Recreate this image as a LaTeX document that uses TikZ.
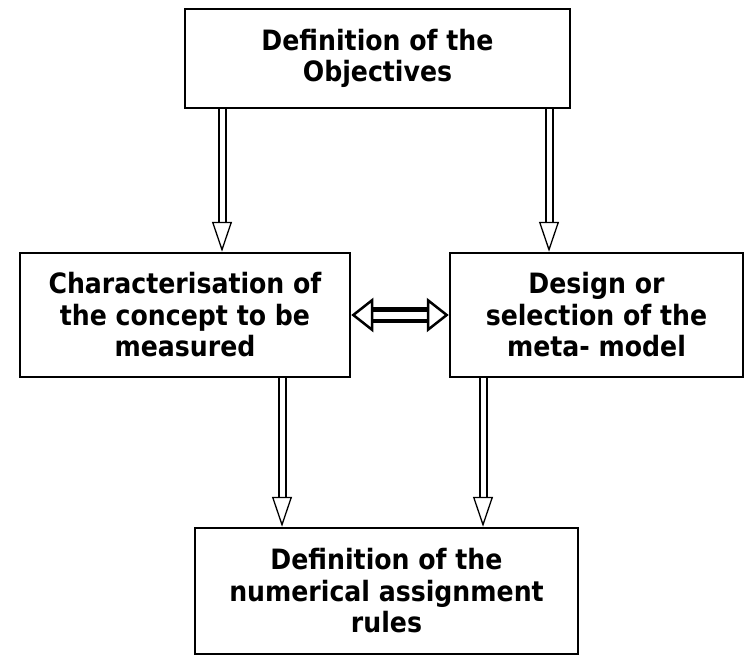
\documentclass[tikz,border=0pt]{standalone}
\usepackage{fontspec}
\setmainfont{DejaVu Sans Condensed}
\usetikzlibrary{arrows.meta}
\begin{document}
\begin{tikzpicture}[x=1pt, y=-1pt]
    % Definizione stili
    \tikzstyle{stage}=[draw, line width=2.5pt, align=center, font=\bfseries\fontsize{28}{31.5}\selectfont]
    \tikzstyle{flow}=[double, line width=2pt, double distance=5pt, -{Triangle[open, length=30pt, width=20pt, line width=1.3pt]}]
    \tikzstyle{exchange}=[double, line width=4.5pt, double distance=7pt, {Triangle[open, length=22pt, width=34pt, line width=2.5pt]}-{Triangle[open, length=22pt, width=34pt, line width=2.5pt]}]

    \useasboundingbox (0,0) rectangle (747,657);

    % Riquadri
    \node[stage, minimum width=385pt, minimum height=99pt] (objectives) at (377.5,58.5) {Definition of the\\Objectives};
    \node[stage, minimum width=330pt, minimum height=124pt] (concept) at (185,315) {Characterisation of\\the concept to be\\measured};
    \node[stage, minimum width=293pt, minimum height=124pt] (metamodel) at (596.5,315) {Design or\\selection of the\\meta- model};
    \node[stage, minimum width=383pt, minimum height=126pt] (rules) at (386.5,591) {Definition of the\\numerical assignment\\rules};

    % Frecce
    \draw[flow] (222,0 |- objectives.south) -- (222,0 |- concept.north);
    \draw[flow] (549,0 |- objectives.south) -- (549,0 |- metamodel.north);
    \draw[exchange] (concept.east) -- (metamodel.west);
    \draw[flow] (282,0 |- concept.south) -- (282,0 |- rules.north);
    \draw[flow] (483,0 |- metamodel.south) -- (483,0 |- rules.north);
\end{tikzpicture}
\end{document}
